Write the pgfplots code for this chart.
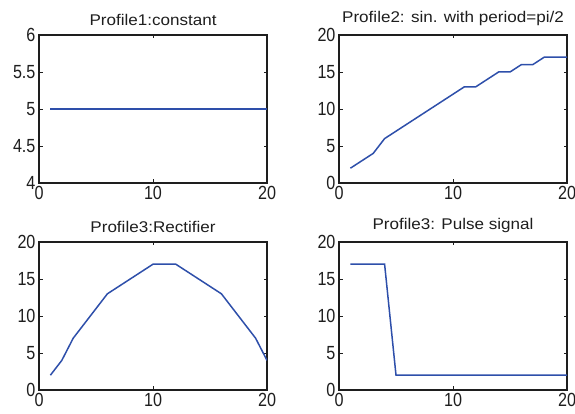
\documentclass[border=0pt]{standalone}
\usepackage{fontspec}
\setmainfont{Liberation Sans}
\newfontfamily\tickfont[FakeStretch=0.85]{Liberation Sans}
\newfontfamily\titlefont[FakeStretch=1.1]{Liberation Sans}
\usepackage{pgfplots}
\pgfplotsset{compat=1.18}
\definecolor{mline}{HTML}{2E4FAA}
\definecolor{frame}{HTML}{1E1E1E}

\pgfplotsset{
  prof/.style={
    scale only axis, width=228pt, height=148pt, anchor=south west,
    xmin=0, xmax=20, xtick={0,10,20},
    axis line style={frame, line width=1.1pt},
    tick style={frame, line width=0.9pt}, tick align=inside,
    major tick length=3.5pt,
    xtick pos=both, ytick pos=both,
    tick label style={font=\tickfont\fontsize{19}{21}\selectfont, text=frame},
    /pgf/number format/assume math mode=true,
    title style={font=\titlefont\fontsize{15.5}{18}\selectfont, text=frame},
  }
}

\begin{document}
\begin{tikzpicture}
\useasboundingbox (0pt,0pt) rectangle (575pt,414pt);
\begin{axis}[prof, at={(39pt,231pt)}, ymin=4, ymax=6, ytick={4,4.5,5,5.5,6},
  title={Profile1:constant}]
  \addplot[mline, line width=1.5pt] coordinates {(1,5) (2,5) (3,5) (4,5) (5,5) (6,5) (7,5) (8,5) (9,5) (10,5)
    (11,5) (12,5) (13,5) (14,5) (15,5) (16,5) (17,5) (18,5) (19,5) (20,5)};
\end{axis}
\begin{axis}[prof, at={(339pt,231pt)}, ymin=0, ymax=20, ytick={0,5,10,15,20},
  title={Profile2: sin. with period=pi/2}]
  \addplot[mline, line width=1.5pt] coordinates {(1,2) (2,3) (3,4) (4,6) (5,7) (6,8) (7,9) (8,10) (9,11) (10,12)
    (11,13) (12,13) (13,14) (14,15) (15,15) (16,16) (17,16) (18,17) (19,17) (20,17)};
\end{axis}
\begin{axis}[prof, at={(39pt,24pt)}, ymin=0, ymax=20, ytick={0,5,10,15,20},
  title={Profile3:Rectifier}]
  \addplot[mline, line width=1.5pt] coordinates {(1,2) (2,4) (3,7) (4,9) (5,11) (6,13) (7,14) (8,15) (9,16) (10,17)
    (11,17) (12,17) (13,16) (14,15) (15,14) (16,13) (17,11) (18,9) (19,7) (20,4)};
\end{axis}
\begin{axis}[prof, at={(339pt,24pt)}, ymin=0, ymax=20, ytick={0,5,10,15,20},
  title={Profile3: Pulse signal}]
  \addplot[mline, line width=1.5pt] coordinates {(1,17) (2,17) (3,17) (4,17) (5,2) (6,2) (7,2) (8,2) (9,2) (10,2)
    (11,2) (12,2) (13,2) (14,2) (15,2) (16,2) (17,2) (18,2) (19,2) (20,2)};
\end{axis}
\end{tikzpicture}
\end{document}
